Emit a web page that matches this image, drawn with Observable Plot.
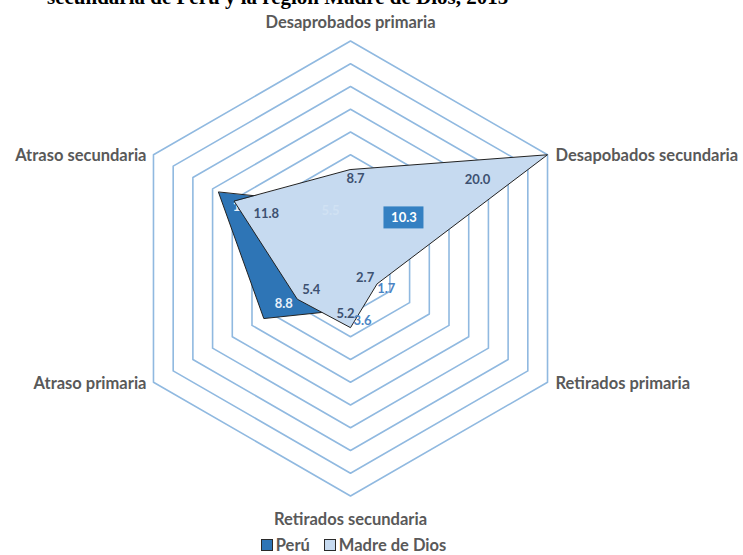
<!DOCTYPE html>
<html>
<head>
<meta charset="utf-8">
<script src="https://cdn.jsdelivr.net/npm/d3@7"></script>
<script src="https://cdn.jsdelivr.net/npm/@observablehq/plot@0.6"></script>
<style>
  body { margin: 0; background: #fff; }
  #wrap { position: relative; width: 743px; height: 555px; overflow: hidden; background: #fff; }
  #title { position: absolute; left: 47px; top: -13px; font: bold 21px "Liberation Serif", "DejaVu Serif", serif; color: #000; white-space: nowrap; line-height: 20px; }
  #legend { position: absolute; left: -18px; top: 535px; width: 743px; display: flex; justify-content: center; gap: 14px; font: bold 16.5px Lato, "Open Sans", sans-serif; color: #595959; }
  .item { display: flex; align-items: center; gap: 3px; }
  .sw { width: 10px; height: 10px; border: 1px solid #2a2a2a; display: inline-block; }
</style>
</head>
<body>
<div id="wrap">
  <div id="chart"></div>
  <div id="title">secundaria de Perú y la región Madre de Dios, 2015</div>
  <div id="legend"></div>
</div>
<script>
// ---- data ----
const categories = ["Desaprobados primaria", "Desapobados secundaria", "Retirados primaria", "Retirados secundaria", "Atraso primaria", "Atraso secundaria"];
const seriesNames = ["Perú", "Madre de Dios"];
const peru = [5.5, 10.3, 1.7, 3.6, 8.8, 13.4];
const madre = [8.7, 20.0, 2.7, 5.2, 5.4, 11.8];
const ringValues = [2, 4, 6, 8, 10, 12, 14, 16, 18, 20];

// ---- styling / layout ----
const colors = { peru: "#2e75b6", madre: "#c6daf0", grid: "#90b9e0", edge: "#222222" };
const W = 743, H = 530, cx = 350, cy = 268, rpx = 227.5, rmax = 20;
const k = rpx / rmax; // px per unit
const FONT = "Lato, 'Open Sans', sans-serif";

const ang = i => Math.PI / 2 - i * Math.PI / 3;
const px = (i, r) => r * Math.cos(ang(i));
const py = (i, r) => r * Math.sin(ang(i));

const gridRows = ringValues.flatMap(r => d3.range(6).map(i => ({ ring: r, x: px(i, r), y: py(i, r) })));
const poly = vals => vals.map((v, i) => ({ x: px(i, v), y: py(i, v) }));

// label nudges in pixels (mimicking the spreadsheet's label placement)
const madreNudge = [[5, 9], [-70, 25], [-12, -6], [-5, -14], [14, -9], [32, 12]];
const peruNudge = [[-20, 5], [-48, 8], [19, 11], [12, 11], [20, -15], [27, 15]];

const lab = (vals, nudge, idx) => idx.map(i => ({ x: px(i, vals[i]), y: py(i, vals[i]), dx: nudge[i][0], dy: nudge[i][1], t: vals[i].toFixed(1) }));

const catLabels = categories.map((c, i) => ({ c, i, x: px(i, rmax), y: py(i, rmax) }));

const textMark = (data, opts) => Plot.text(data, { x: "x", y: "y", text: "t", fontSize: 13, fontWeight: "bold", fontFamily: FONT, ...opts });
const catMark = (idx, opts) => Plot.text(catLabels.filter(d => idx.includes(d.i)), { x: "x", y: "y", text: "c", fontSize: 16.5, fontWeight: "bold", fill: "#595959", fontFamily: FONT, ...opts });

const underLabels = lab(peru, peruNudge, [4, 5]);
const ghost = lab(peru, peruNudge, [0]);
const peruTop = lab(peru, peruNudge, [2, 3]);
const boxLab = lab(peru, peruNudge, [1]).map(d => ({ ...d, lx: d.x + d.dx / k, ly: d.y - d.dy / k }));

const chart = Plot.plot({
  width: W, height: H, margin: 0,
  x: { domain: [-cx / k, (W - cx) / k], axis: null },
  y: { domain: [-(H - cy) / k, cy / k], axis: null },
  style: { background: "white" },
  marks: [
    Plot.line(gridRows, { x: "x", y: "y", z: "ring", curve: "linear-closed", stroke: colors.grid, strokeWidth: 1.6 }),
    Plot.line(poly(peru), { x: "x", y: "y", curve: "linear-closed", fill: colors.peru, stroke: colors.edge, strokeWidth: 1 }),
    ...underLabels.map(d => textMark([d], { dx: d.dx, dy: d.dy, fill: "#e8f0fa" })),
    Plot.line(poly(madre), { x: "x", y: "y", curve: "linear-closed", fill: colors.madre, stroke: colors.edge, strokeWidth: 1 }),
    ...ghost.map(d => textMark([d], { dx: d.dx, dy: d.dy, fill: "#d0e1f3" })),
    ...lab(madre, madreNudge, d3.range(6)).map(d => textMark([d], { dx: d.dx, dy: d.dy, fill: "#3d5170" })),
    ...peruTop.map(d => textMark([d], { dx: d.dx, dy: d.dy, fill: "#4a84c4" })),
    Plot.rect(boxLab, { x1: d => d.lx - 20 / k, x2: d => d.lx + 20 / k, y1: d => d.ly - 11 / k, y2: d => d.ly + 11 / k, fill: "#3480c2" }),
    textMark(boxLab, { x: "lx", y: "ly", fill: "white" }),
    catMark([0], { textAnchor: "middle", dy: -18 }),
    catMark([3], { textAnchor: "middle", dy: 24 }),
    catMark([1, 2], { textAnchor: "start", dx: 8, dy: 1 }),
    catMark([4, 5], { textAnchor: "end", dx: -7, dy: 1 })
  ]
});
document.getElementById("chart").appendChild(chart);

const legend = document.getElementById("legend");
[[seriesNames[0], colors.peru], [seriesNames[1], colors.madre]].forEach(([n, c]) => {
  const it = document.createElement("span");
  it.className = "item";
  it.innerHTML = `<span class="sw" style="background:${c}"></span><span>${n}</span>`;
  legend.appendChild(it);
});
</script>
</body>
</html>
